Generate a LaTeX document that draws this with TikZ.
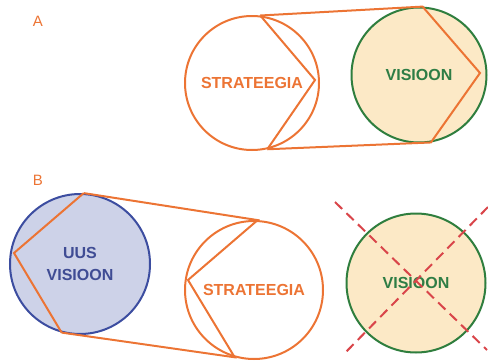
\documentclass[tikz,border=0pt]{standalone}
\usepackage{fontspec}
\setmainfont{Liberation Sans}
\definecolor{orng}{HTML}{EC7434}
\definecolor{grn}{HTML}{2F7E3E}
\definecolor{grntxt}{HTML}{2E7D45}
\definecolor{tan}{HTML}{FCE9C6}
\definecolor{bluefill}{HTML}{CDD2E8}
\definecolor{bluestroke}{HTML}{3C4DA0}
\definecolor{bluetxt}{HTML}{3F4C94}
\definecolor{redx}{HTML}{D9454A}
\begin{document}
\begin{tikzpicture}[x=1pt,y=-1pt,
  ring/.style={circle, draw, line width=2pt, inner sep=0pt, minimum size=#1,
    font=\bfseries\fontsize{16}{22}\selectfont, align=center},
  oline/.style={draw=orng, line width=2pt, line join=miter},
  letter/.style={text=orng, font=\fontsize{15}{18}\selectfont},
  cross/.style={draw=redx, line width=2pt, dash pattern=on 10pt off 6pt}]
\useasboundingbox (0,0) rectangle (488,362);
% Panel A
\node[letter] (la) at (38,21) {A};
\node[ring=134pt, draw=orng, text=orng] (sA) at (252,83) {STRATEEGIA};
\node[ring=135pt, draw=grn, fill=tan, text=grntxt] (vA) at (419,75) {VISIOON};
\coordinate (tipsA) at (315,80);
\coordinate (tipvA) at (480,73);
\draw[oline] (sA.83) -- (tipsA) -- (sA.-77);
\draw[oline] (sA.83) -- (vA.87) -- (tipvA) -- (vA.-80) -- (sA.-77);
% Panel B
\node[letter] (lb) at (38,180) {B};
\node[ring=140pt, draw=bluestroke, fill=bluefill, text=bluetxt] (bB) at (80,264) {UUS\\VISIOON};
\node[ring=138pt, draw=orng, text=orng] (sB) at (254,290) {STRATEEGIA};
\node[ring=139pt, draw=grn, fill=tan, text=grntxt] (vB) at (416,283) {VISIOON};
\coordinate (tipbB) at (14,253);
\coordinate (tipsB) at (188,280);
\draw[oline] (bB.87) -- (tipbB) -- (bB.-105);
\draw[oline] (bB.87) -- (sB.87) -- (tipsB) -- (sB.-106) -- (bB.-105);
\coordinate (x1) at (335,202);
\coordinate (x2) at (487,350);
\coordinate (x3) at (488,207);
\coordinate (x4) at (343,355);
\draw[cross] (x1) -- (x2);
\draw[cross] (x3) -- (x4);
\end{tikzpicture}
\end{document}
